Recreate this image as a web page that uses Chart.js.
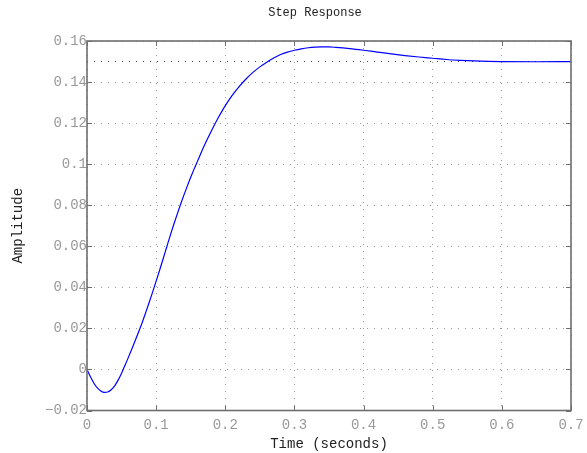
<!DOCTYPE html>
<html>
<head>
<meta charset="utf-8">
<script src="https://cdn.jsdelivr.net/npm/chart.js@4"></script>
<style>
  html, body { margin: 0; padding: 0; background: #fff; }
  #wrap { width: 587px; height: 453px; }
</style>
</head>
<body>
<div id="wrap"><canvas id="step"></canvas></div>
<script>
// step response
var times = [0, 0.005, 0.01, 0.015, 0.02, 0.025, 0.03, 0.035, 0.04, 0.045, 0.05, 0.055,
  0.06, 0.065, 0.07, 0.077, 0.08, 0.085, 0.09, 0.095, 0.1, 0.105, 0.11, 0.115, 0.12, 0.125,
  0.13, 0.135, 0.14, 0.145, 0.15, 0.155, 0.16, 0.17, 0.18, 0.19, 0.2, 0.21, 0.22, 0.23,
  0.24, 0.25, 0.26, 0.27, 0.28, 0.29, 0.3, 0.31, 0.32, 0.33, 0.34, 0.35, 0.36, 0.38, 0.4,
  0.42, 0.44, 0.46, 0.48, 0.5, 0.52, 0.54, 0.56, 0.58, 0.6, 0.65, 0.7];
var amplitude = [0, -0.0036, -0.0067, -0.009, -0.0105, -0.0112, -0.011, -0.0099, -0.008, -0.0052, -0.0018, 0.002,
  0.006, 0.0101, 0.0143, 0.0203, 0.023, 0.0278, 0.0327, 0.0378, 0.043, 0.0483, 0.0538, 0.0593, 0.0648, 0.0701,
  0.0752, 0.0801, 0.0848, 0.0893, 0.0936, 0.0977, 0.1016, 0.1093, 0.1163, 0.1227, 0.1285, 0.1335, 0.1378, 0.1415,
  0.1447, 0.1474, 0.1497, 0.1517, 0.1534, 0.1546, 0.1555, 0.1562, 0.1567, 0.157, 0.1571, 0.1571, 0.1569, 0.1563, 0.1555,
  0.1546, 0.1537, 0.1529, 0.1522, 0.1516, 0.151, 0.1506, 0.1503, 0.1501, 0.15, 0.1499, 0.15];
var steadyState = 0.15;

var chartTitle = 'Step Response';
var xTicks = [0, 0.1, 0.2, 0.3, 0.4, 0.5, 0.6, 0.7];
var xLabels = ['0', '0.1', '0.2', '0.3', '0.4', '0.5', '0.6', '0.7'];
var yTicks = [-0.02, 0, 0.02, 0.04, 0.06, 0.08, 0.1, 0.12, 0.14, 0.16];
var yLabels = ['\u22120.02', '0', '0.02', '0.04', '0.06', '0.08', '0.1', '0.12', '0.14', '0.16'];

var mono = "'Liberation Mono', 'Courier New', monospace";

var response = times.map(function(t, i){ return {x: t, y: amplitude[i]}; });
var finalLine = [{x: xTicks[0], y: steadyState}, {x: xTicks[xTicks.length - 1], y: steadyState}];

// box round the axes with inward ticks, matlab style, plus the title
var boxPlugin = {
  id: 'box',
  afterDatasetsDraw: function(chart){
    var ctx = chart.ctx, a = chart.chartArea;
    var xs = chart.scales.x, ys = chart.scales.y;
    ctx.save();
    ctx.strokeStyle = '#6e6e6e';
    ctx.lineWidth = 1;
    ctx.beginPath();
    xTicks.forEach(function(v){
      var px = Math.round(xs.getPixelForValue(v)) + 0.5;
      ctx.moveTo(px, a.bottom); ctx.lineTo(px, a.bottom - 5);
      ctx.moveTo(px, a.top); ctx.lineTo(px, a.top + 5);
    });
    yTicks.forEach(function(v){
      var py = Math.round(ys.getPixelForValue(v)) + 0.5;
      ctx.moveTo(a.left, py); ctx.lineTo(a.left + 5, py);
      ctx.moveTo(a.right, py); ctx.lineTo(a.right - 5, py);
    });
    ctx.stroke();
    ctx.lineWidth = 1.6;
    ctx.strokeRect(a.left, a.top, a.right - a.left, a.bottom - a.top);

    ctx.fillStyle = '#222';
    ctx.font = '12px ' + mono;
    ctx.textAlign = 'center';
    ctx.textBaseline = 'middle';
    ctx.fillText(chartTitle, 315, 13);
    ctx.restore();
  }
};

new Chart(document.getElementById('step'), {
  type: 'line',
  data: {
    datasets: [{
      label: 'Step',
      data: response,
      borderColor: '#0000ff',
      borderWidth: 1.2,
      pointRadius: 0,
      fill: false,
      cubicInterpolationMode: 'monotone'
    }, {
      label: 'Final value',
      data: finalLine,
      borderColor: '#444',
      borderWidth: 1,
      borderDash: [1, 6],
      pointRadius: 0,
      fill: false
    }]
  },
  options: {
    responsive: true,
    maintainAspectRatio: false,
    animation: false,
    layout: { padding: { right: 16, left: 0, bottom: 0, top: 41 } },
    plugins: {
      legend: { display: false },
      tooltip: { enabled: false },
      title: { display: false }
    },
    scales: {
      x: {
        type: 'linear',
        min: 0,
        max: 0.7,
        afterBuildTicks: function(s){ s.ticks = xTicks.map(function(v){ return {value: v}; }); },
        afterFit: function(s){ s.height = 42.5; s.paddingLeft = 0; s.paddingRight = 0; },
        ticks: {
          color: '#999',
          font: { family: mono, size: 14 },
          padding: 6,
          maxRotation: 0,
          callback: function(v, i){ return xLabels[i]; }
        },
        grid: { color: '#999', lineWidth: 1, drawTicks: false },
        border: { display: false, dash: [1, 6] },
        title: {
          display: true,
          text: 'Time (seconds)',
          color: '#222',
          font: { family: mono, size: 14 },
          padding: { top: 3, bottom: 0 }
        }
      },
      y: {
        type: 'linear',
        min: -0.02,
        max: 0.16,
        afterBuildTicks: function(s){ s.ticks = yTicks.map(function(v){ return {value: v}; }); },
        afterFit: function(s){ s.width = 87; s.paddingTop = 0; s.paddingBottom = 0; },
        ticks: {
          color: '#999',
          font: { family: mono, size: 14 },
          padding: 0,
          callback: function(v, i){ return yLabels[i]; }
        },
        grid: { color: '#999', lineWidth: 1, drawTicks: false },
        border: { display: false, dash: [1, 6] },
        title: {
          display: true,
          text: 'Amplitude',
          color: '#222',
          font: { family: mono, size: 14 },
          padding: { top: 10, bottom: 0 }
        }
      }
    }
  },
  plugins: [boxPlugin]
});
</script>
</body>
</html>
